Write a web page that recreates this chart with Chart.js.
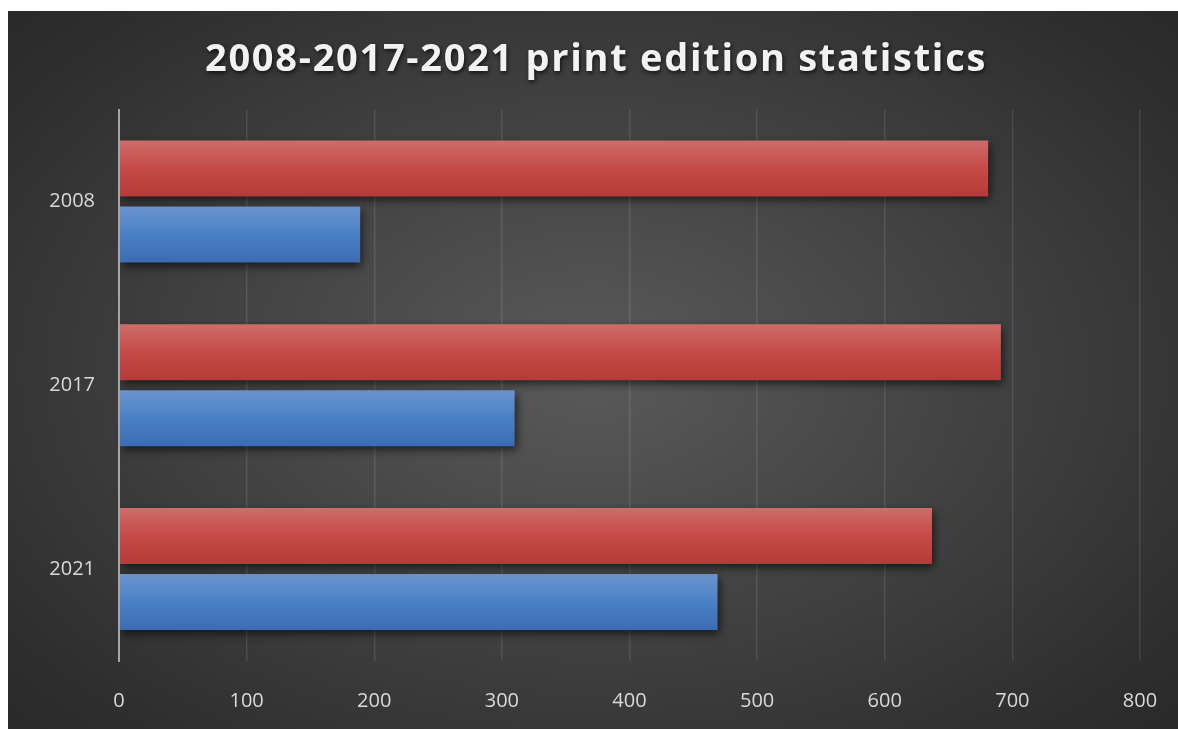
<!DOCTYPE html>
<html>
<head>
<meta charset="utf-8">
<script src="https://cdn.jsdelivr.net/npm/chart.js@4"></script>
<style>
  html, body { margin: 0; padding: 0; background: #fff; overflow: hidden; }
  #card {
    position: absolute; left: 8px; top: 11px; width: 1170px; height: 718px;
    background: radial-gradient(ellipse 75% 80% at 50% 50%, #5a5a5a 0%, #444 40%, #2e2e2e 80%, #262626 100%);
  }
  #chart { position: absolute; left: 0; top: 0; }
</style>
</head>
<body>
<div id="card"><canvas id="chart" width="1170" height="718"></canvas></div>
<script>
const years = ["2008", "2017", "2021"];
const redValues = [681, 691, 637];
const blueValues = [189, 310, 469];
const xTicks = [0, 100, 200, 300, 400, 500, 600, 700, 800];

// vertical gradient per bar, built from the bar's own geometry
function barFill(top, mid, bottom) {
  return c => {
    const el = c.element;
    if (!el || !el.height) return mid;
    const y0 = el.y - el.height / 2;
    const g = c.chart.ctx.createLinearGradient(0, y0, 0, y0 + el.height);
    g.addColorStop(0, top);
    g.addColorStop(0.5, mid);
    g.addColorStop(1, bottom);
    return g;
  };
}

const shadowPlugin = {
  id: "shadows",
  afterInit(chart) {
    const tb = chart.titleBlock;
    if (!tb) return;
    const orig = tb.draw.bind(tb);
    tb.draw = area => {
      const ctx = chart.ctx;
      ctx.save();
      ctx.translate(3, 1);
      ctx.letterSpacing = "1.7px";
      ctx.shadowColor = "rgba(0,0,0,0.7)";
      ctx.shadowBlur = 4;
      ctx.shadowOffsetX = 1;
      ctx.shadowOffsetY = 2;
      orig(area);
      ctx.restore();
    };
  },
  beforeDatasetsDraw(chart) {
    const ctx = chart.ctx;
    ctx.save();
    ctx.shadowColor = "rgba(0,0,0,0.65)";
    ctx.shadowBlur = 9;
    ctx.shadowOffsetX = 2;
    ctx.shadowOffsetY = 4;
  },
  afterDatasetsDraw(chart) {
    chart.ctx.restore();
  }
};

const chart = new Chart(document.getElementById("chart"), {
  type: "bar",
  data: {
    labels: years,
    datasets: [
      { label: "Series 1", data: redValues, backgroundColor: barFill("#ce6d6a", "#c64a47", "#b63a38") },
      { label: "Series 2", data: blueValues, backgroundColor: barFill("#6c95ce", "#4a80c6", "#3a6cb2") }
    ]
  },
  options: {
    indexAxis: "y",
    responsive: false,
    animation: false,
    categoryPercentage: 0.7186,
    barPercentage: 0.848,
    layout: { padding: { left: 0, right: 0, top: 0, bottom: 15 } },
    plugins: {
      legend: { display: false },
      tooltip: { enabled: false },
      title: {
        display: true,
        text: "2008-2017-2021 print edition statistics",
        color: "#f2f2f2",
        font: { family: "'Open Sans'", size: 38, weight: "bold" },
        padding: { top: 25, bottom: 28 }
      }
    },
    scales: {
      x: {
        min: 0,
        max: 800,
        afterBuildTicks: s => { s.ticks = xTicks.map(v => ({ value: v })); },
        grid: { color: "rgba(255,255,255,0.1)", lineWidth: 1.5, drawTicks: false },
        border: { display: false },
        ticks: { color: "#d9d9d9", padding: 28, font: { family: "'Open Sans'", size: 20 } },
        afterFit: s => { s.height = 53; s.paddingLeft = 0; s.paddingRight = 38; }
      },
      y: {
        grid: { display: false, drawTicks: false },
        border: { display: true, color: "#a6a6a6", width: 2, z: 1 },
        ticks: { color: "#d9d9d9", padding: 24, font: { family: "'Open Sans'", size: 20 } },
        afterFit: s => { s.width = 111; }
      }
    }
  },
  plugins: [shadowPlugin]
});
// second pass so the gradients can read the bar positions
chart.update();
</script>
</body>
</html>
